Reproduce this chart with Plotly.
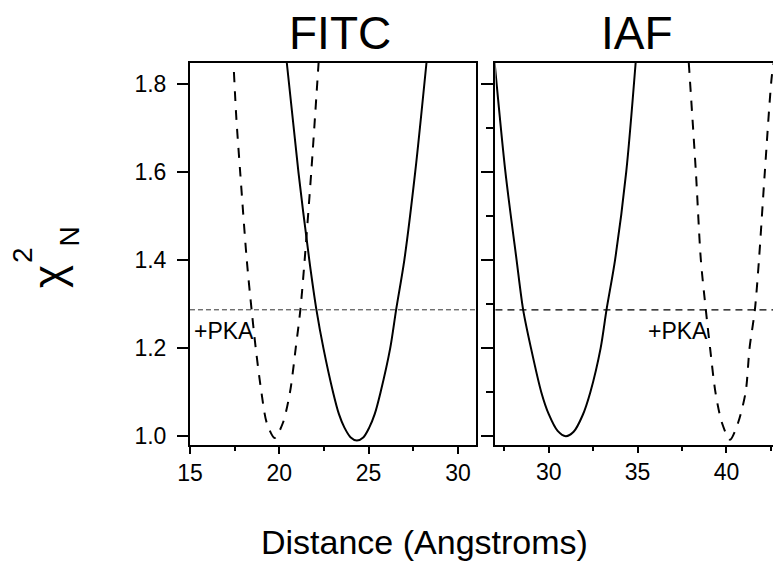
import plotly.graph_objects as go

W, H = 773, 570
FONT = "Liberation Sans, Arial, Helvetica, sans-serif"

# Reduced chi-square surfaces versus donor-acceptor distance
fitc_x = [20.42, 21.07, 21.68, 22.08, 22.47, 23.01, 23.34, 23.64, 24.0, 24.34,
          24.7, 25.04, 25.34, 25.67, 26.21, 26.54, 27.0, 27.61, 28.24]
fitc_y = [1.848, 1.6, 1.4, 1.287, 1.2, 1.1, 1.05, 1.02, 0.997, 0.99,
          0.997, 1.02, 1.05, 1.1, 1.2, 1.287, 1.4, 1.6, 1.848]

fitc_pka_x = [17.46, 17.6, 17.81, 18.18, 18.45, 18.68, 19.0, 19.3, 19.74,
              20.2, 20.6, 20.92, 21.18, 21.42, 21.79, 22.2]
fitc_pka_y = [1.827, 1.72, 1.6, 1.4, 1.287, 1.2, 1.1, 1.03, 0.996,
              1.03, 1.1, 1.2, 1.287, 1.4, 1.6, 1.848]

iaf_x = [26.95, 27.56, 28.19, 28.56, 29.0, 29.58, 30.0, 30.5, 30.96,
         31.4, 31.9, 32.34, 32.92, 33.25, 33.73, 34.36, 34.89]
iaf_y = [1.85, 1.6, 1.4, 1.287, 1.2, 1.1, 1.05, 1.012, 1.0,
         1.01, 1.047, 1.1, 1.2, 1.287, 1.4, 1.6, 1.848]

iaf_pka_x = [37.88, 38.28, 38.56, 38.84, 39.08, 39.38, 39.75, 40.2,
             40.65, 41.08, 41.3, 41.6, 41.83, 42.16, 42.56, 42.72]
iaf_pka_y = [1.848, 1.6, 1.4, 1.287, 1.2, 1.1, 1.03, 0.992,
             1.03, 1.1, 1.2, 1.287, 1.4, 1.6, 1.82, 1.86]

# Significance threshold for chi-square
chi_limit = 1.287

panel_titles = ["FITC", "IAF"]
x_title = "Distance (Angstroms)"
pka_label = "+PKA"

y_range = [0.981, 1.848]
x1_range = [15, 31]
x2_range = [27, 42.62]


def px(v):
    return v / W


def py(v):
    return 1 - v / H


fig = go.Figure()

solid = dict(color="black", width=2)
dashed = dict(color="black", width=2, dash="10px,9px")

fig.add_trace(go.Scatter(x=fitc_x, y=fitc_y, mode="lines", xaxis="x", yaxis="y",
                         line=dict(**solid, shape="spline", smoothing=0.8)))
fig.add_trace(go.Scatter(x=fitc_pka_x, y=fitc_pka_y, mode="lines", xaxis="x", yaxis="y",
                         line=dict(**dashed, shape="spline", smoothing=0.8)))
fig.add_trace(go.Scatter(x=iaf_x, y=iaf_y, mode="lines", xaxis="x2", yaxis="y2",
                         line=dict(**solid, shape="spline", smoothing=0.8)))
fig.add_trace(go.Scatter(x=iaf_pka_x, y=iaf_pka_y, mode="lines", xaxis="x2", yaxis="y2",
                         line=dict(**dashed, shape="spline", smoothing=0.8)))

# Threshold lines across each panel
fig.add_shape(type="line", xref="x domain", yref="y", x0=0, x1=1, y0=chi_limit, y1=chi_limit,
              line=dict(color="#333333", width=1, dash="5px,3px"), layer="below")
fig.add_shape(type="line", xref="x2 domain", yref="y2", x0=0, x1=1, y0=chi_limit, y1=chi_limit,
              line=dict(color="black", width=1.2, dash="7px,5px"), layer="below")

axis_common = dict(showline=True, linecolor="black", linewidth=2, showgrid=False,
                   zeroline=False, ticks="outside", tickcolor="black", tickwidth=1.5,
                   tickfont=dict(family=FONT, size=23, color="black"))

fig.update_layout(
    width=W, height=H, autosize=False,
    margin=dict(l=0, r=0, t=0, b=0),
    paper_bgcolor="white", plot_bgcolor="white",
    showlegend=False,
    xaxis=dict(**axis_common, domain=[px(180), px(470.7)], range=x1_range,
               anchor="y", mirror=True, tick0=15, dtick=5, ticklen=7,
               minor=dict(ticks="outside", ticklen=4, dtick=2.5, tick0=15,
                          tickcolor="black", tickwidth=1.5)),
    yaxis=dict(**axis_common, domain=[py(448.5), py(63.3)], range=y_range,
               anchor="x", mirror=True, tick0=1.0, dtick=0.2, ticklen=11,
               tickformat=".1f", ticklabelstandoff=6),
    xaxis2=dict(**axis_common, domain=[px(490.7), 1.0], range=x2_range,
                anchor="y2", mirror=True, tick0=30, dtick=5, ticklen=6,
                minor=dict(ticks="outside", ticklen=4, dtick=2.5, tick0=30,
                           tickcolor="black", tickwidth=1.5)),
    yaxis2=dict(**axis_common, domain=[py(448.5), py(63.3)], range=y_range,
                anchor="x2", mirror=False, tick0=1.0, dtick=0.2, ticklen=12,
                showticklabels=False,
                minor=dict(ticks="outside", ticklen=7, dtick=0.1, tick0=1.0,
                           tickcolor="black", tickwidth=1.5)),
)

ann_font = dict(family=FONT, color="black")
annotations = [
    dict(text=panel_titles[0], x=px(333), y=py(33), font=dict(**ann_font, size=46)),
    dict(text=panel_titles[1], x=px(635), y=py(33), font=dict(**ann_font, size=46)),
    dict(text=x_title, x=px(419), y=py(547), font=dict(**ann_font, size=34)),
    dict(text="χ", x=px(36), y=py(279), font=dict(**ann_font, size=44), textangle=-90),
    dict(text="2", x=px(9), y=py(257.5), font=dict(**ann_font, size=28), textangle=-90),
    dict(text="N", x=px(57), y=py(238.5), font=dict(**ann_font, size=28), textangle=-90),
]
for a in annotations:
    a.update(xref="paper", yref="paper", showarrow=False, xanchor="center", yanchor="middle")

annotations += [
    dict(text=pka_label, xref="x", yref="y", x=15.1, y=1.239, xanchor="left",
         yanchor="middle", showarrow=False, font=dict(**ann_font, size=23)),
    dict(text=pka_label, xref="x2", yref="y2", x=35.45, y=1.239, xanchor="left",
         yanchor="middle", showarrow=False, font=dict(**ann_font, size=23)),
]
fig.update_layout(annotations=annotations)

fig.write_html("out.html")
